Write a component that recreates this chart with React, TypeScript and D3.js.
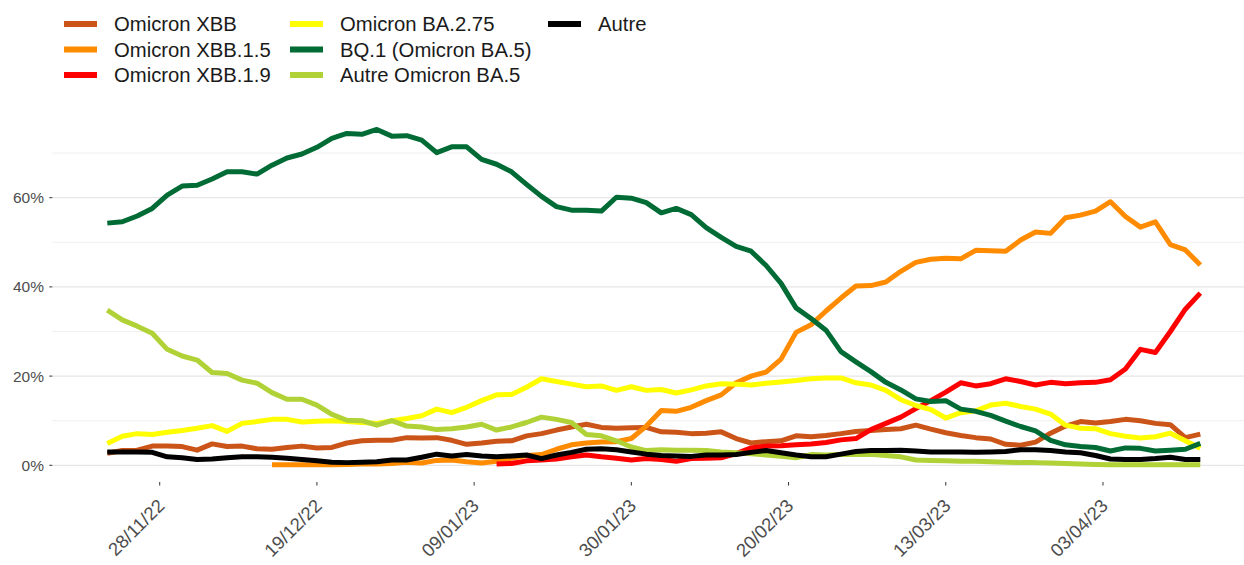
import React from "react";
import * as d3 from "d3";

// Dates: every 2 days from 21/11/22 to 16/04/23
const START = new Date(Date.UTC(2022, 10, 21));
const END = new Date(Date.UTC(2023, 3, 16));
const dates: Date[] = d3.utcDay.range(START, d3.utcDay.offset(END, 1), 2);

const tickDates = ["2022-11-28", "2022-12-19", "2023-01-09", "2023-01-30", "2023-02-20", "2023-03-13", "2023-04-03"];
const yTicksMajor = [0, 20, 40, 60];
const yTicksMinor = [10, 30, 50, 70];

const xbb = [2.7, 3.3, 3.4, 4.3, 4.3, 4.2, 3.4, 4.8, 4.2, 4.3, 3.7, 3.6, 4.0, 4.3, 3.9, 4.0, 5.0, 5.5, 5.6, 5.6,
  6.2, 6.1, 6.2, 5.6, 4.7, 5.0, 5.4, 5.5, 6.6, 7.1, 7.9, 8.6, 9.2, 8.5, 8.3, 8.4, 8.5, 7.5, 7.4, 7.1,
  7.2, 7.5, 6.0, 5.0, 5.3, 5.5, 6.6, 6.4, 6.7, 7.1, 7.6, 7.8, 8.0, 8.2, 9.0, 8.1, 7.3, 6.7, 6.2, 5.9,
  4.7, 4.5, 5.2, 7.2, 8.8, 9.8, 9.5, 9.8, 10.3, 10.0, 9.4, 9.1, 6.2, 7.0];

const xbb15 = [null, null, null, null, null, null, null, null, null, null, null, 0.1, 0.1, 0.1, 0.1, 0.1, 0.2, 0.3, 0.3, 0.4,
  0.7, 0.5, 1.1, 1.2, 0.8, 0.5, 0.9, 1.6, 2.2, 2.4, 3.6, 4.6, 5.0, 5.2, 5.3, 6.0, 8.8, 12.3, 12.1, 13.0,
  14.5, 15.8, 18.5, 20.0, 20.9, 23.8, 29.8, 31.5, 34.6, 37.5, 40.2, 40.3, 41.1, 43.5, 45.5, 46.2, 46.4, 46.3, 48.2, 48.1,
  48.0, 50.5, 52.3, 52.0, 55.5, 56.1, 57.0, 59.1, 55.8, 53.4, 54.6, 49.5, 48.3, 44.9];

const xbb19 = [null, null, null, null, null, null, null, null, null, null, null, null, null, null, null, null, null, null, null, null,
  null, null, null, null, null, null, 0.3, 0.4, 1.0, 1.2, 1.4, 1.9, 2.3, 1.9, 1.6, 1.2, 1.5, 1.3, 0.9, 1.5,
  1.6, 1.7, 2.6, 3.9, 4.3, 4.4, 4.6, 4.8, 5.1, 5.7, 6.0, 8.0, 9.4, 10.8, 12.7, 14.5, 16.4, 18.5, 17.8, 18.3,
  19.4, 18.8, 18.0, 18.6, 18.3, 18.5, 18.6, 19.2, 21.6, 26.0, 25.3, 30.0, 35.0, 38.6];

const ba275 = [4.9, 6.5, 7.1, 6.9, 7.4, 7.8, 8.3, 8.9, 7.6, 9.4, 9.8, 10.3, 10.3, 9.7, 9.9, 10.0, 9.8, 9.6, 9.4, 10.0,
  10.5, 11.1, 12.6, 11.8, 13.0, 14.5, 15.8, 15.9, 17.5, 19.4, 18.8, 18.2, 17.6, 17.8, 16.8, 17.6, 16.8, 17.0, 16.2, 16.9,
  17.8, 18.3, 18.2, 18.0, 18.4, 18.7, 19.0, 19.4, 19.6, 19.6, 18.5, 18.0, 16.8, 14.7, 13.4, 12.5, 10.6, 11.8, 12.2, 13.5,
  13.9, 13.2, 12.6, 11.5, 9.0, 8.3, 8.2, 7.1, 6.5, 6.1, 6.4, 7.2, 5.5, 3.8];

const bq1 = [54.3, 54.6, 55.9, 57.6, 60.6, 62.6, 62.8, 64.2, 65.8, 65.8, 65.3, 67.3, 68.9, 69.8, 71.3, 73.3, 74.4, 74.2, 75.3, 73.8,
  73.9, 72.9, 70.1, 71.4, 71.4, 68.6, 67.5, 65.8, 63.0, 60.3, 58.0, 57.2, 57.2, 57.0, 60.1, 59.9, 58.9, 56.6, 57.6, 56.2,
  53.3, 51.1, 49.1, 48.0, 44.8, 40.8, 35.3, 32.9, 30.3, 25.5, 23.2, 21.0, 18.6, 16.9, 14.9, 14.3, 14.5, 12.6, 12.1, 11.2,
  9.9, 8.7, 7.7, 5.6, 4.6, 4.2, 4.0, 3.2, 3.9, 3.8, 3.2, 3.4, 3.6, 4.9];

const autreBa5 = [34.8, 32.6, 31.2, 29.6, 26.0, 24.5, 23.6, 20.8, 20.6, 19.1, 18.4, 16.3, 14.8, 14.8, 13.5, 11.4, 10.1, 10.0, 9.0, 10.0,
  8.8, 8.6, 8.0, 8.2, 8.6, 9.2, 7.9, 8.6, 9.6, 10.8, 10.3, 9.6, 6.9, 6.6, 5.5, 4.1, 3.3, 3.5, 3.4, 3.4,
  3.3, 3.0, 2.8, 2.6, 2.3, 2.0, 1.7, 2.4, 2.3, 2.4, 2.4, 2.5, 2.2, 1.9, 1.2, 1.1, 1.0, 0.9, 0.9, 0.8,
  0.7, 0.6, 0.6, 0.5, 0.4, 0.3, 0.2, 0.1, 0.1, 0.1, 0.1, 0.1, 0.1, 0.1];

const autre = [3.0, 3.0, 3.0, 2.9, 1.9, 1.7, 1.3, 1.4, 1.7, 1.9, 1.9, 1.8, 1.6, 1.3, 1.0, 0.7, 0.6, 0.7, 0.8, 1.2,
  1.2, 1.8, 2.5, 2.1, 2.4, 2.1, 1.9, 2.1, 2.3, 1.5, 2.3, 2.9, 3.6, 3.7, 3.5, 3.0, 2.5, 2.2, 2.1, 2.0,
  2.3, 2.3, 2.4, 2.9, 3.3, 2.8, 2.3, 1.9, 1.9, 2.5, 3.1, 3.3, 3.3, 3.4, 3.2, 3.0, 3.0, 3.0, 2.9, 3.0,
  3.1, 3.5, 3.5, 3.3, 3.0, 2.8, 2.2, 1.4, 1.3, 1.3, 1.5, 1.8, 1.3, 1.3];

const seriesNames = ["Omicron XBB", "Omicron XBB.1.5", "Omicron XBB.1.9", "Omicron BA.2.75", "BQ.1 (Omicron BA.5)", "Autre Omicron BA.5", "Autre"];
const seriesColors = ["#cb5418", "#ff8c00", "#ff0000", "#ffff00", "#006b35", "#b0d236", "#000000"];
const seriesValues = [xbb, xbb15, xbb19, ba275, bq1, autreBa5, autre];

const W = 1244;
const H = 565;
const FONT = "'Liberation Sans', Arial, Helvetica, sans-serif";

export default function App() {
  const x = d3.scaleUtc().domain([START, END]).range([107.3, 1200.3]);
  const y = d3.scaleLinear().domain([0, 60]).range([465.3, 197.7]);
  const panelLeft = 52.3;
  const panelRight = W;
  const panelBottom = y(-3.75);

  const line = d3
    .line<[Date, number | null]>()
    .defined((d) => d[1] != null)
    .x((d) => x(d[0]))
    .y((d) => y(d[1] as number));

  const legendCols = [
    [0, 1, 2],
    [3, 4, 5],
    [6],
  ];
  const legendColX = [64, 290, 548];
  const legendRowY = [24, 49.5, 75];

  return (
    <svg width={W} height={H} style={{ position: "absolute", left: 0, top: 0, background: "#fff" }} fontFamily={FONT}>
      {/* grid */}
      {yTicksMinor.map((t) => (
        <line key={"mn" + t} x1={panelLeft} x2={panelRight} y1={y(t)} y2={y(t)} stroke="#f0f0f0" strokeWidth={1} />
      ))}
      {yTicksMajor.map((t) => (
        <line key={"mj" + t} x1={panelLeft} x2={panelRight} y1={y(t)} y2={y(t)} stroke="#e6e6e6" strokeWidth={1.3} />
      ))}
      {/* y axis */}
      {yTicksMajor.map((t) => (
        <g key={"yl" + t}>
          <line x1={49.3} x2={52.3} y1={y(t)} y2={y(t)} stroke="#333" strokeWidth={1} />
          <text x={44} y={y(t)} dy="0.35em" textAnchor="end" fontSize={15.5} fill="#4d4d4d">
            {t + "%"}
          </text>
        </g>
      ))}
      {/* x axis */}
      {tickDates.map((s) => {
        const d = new Date(s + "T00:00:00Z");
        const px = x(d);
        return (
          <g key={s}>
            <line x1={px} x2={px} y1={panelBottom} y2={panelBottom + 3.5} stroke="#333" strokeWidth={1} />
            <text
              transform={`translate(${px + 6},${panelBottom + 25}) rotate(-45)`}
              textAnchor="end"
              fontSize={18.5}
              fill="#4d4d4d"
            >
              {d3.utcFormat("%d/%m/%y")(d)}
            </text>
          </g>
        );
      })}
      {/* lines */}
      {seriesValues.map((vals, i) => (
        <path
          key={seriesNames[i]}
          d={line(dates.map((d, j) => [d, vals[j]] as [Date, number | null])) || ""}
          fill="none"
          stroke={seriesColors[i]}
          strokeWidth={5}
          strokeLinejoin="round"
        />
      ))}
      {/* legend */}
      {legendCols.map((col, ci) =>
        col.map((si, ri) => (
          <g key={"lg" + si}>
            <line
              x1={legendColX[ci]}
              x2={legendColX[ci] + 33}
              y1={legendRowY[ri]}
              y2={legendRowY[ri]}
              stroke={seriesColors[si]}
              strokeWidth={6}
            />
            <text x={legendColX[ci] + 50} y={legendRowY[ri]} dy="0.35em" fontSize={20.3} fill="#1a1a1a">
              {seriesNames[si]}
            </text>
          </g>
        ))
      )}
    </svg>
  );
}
